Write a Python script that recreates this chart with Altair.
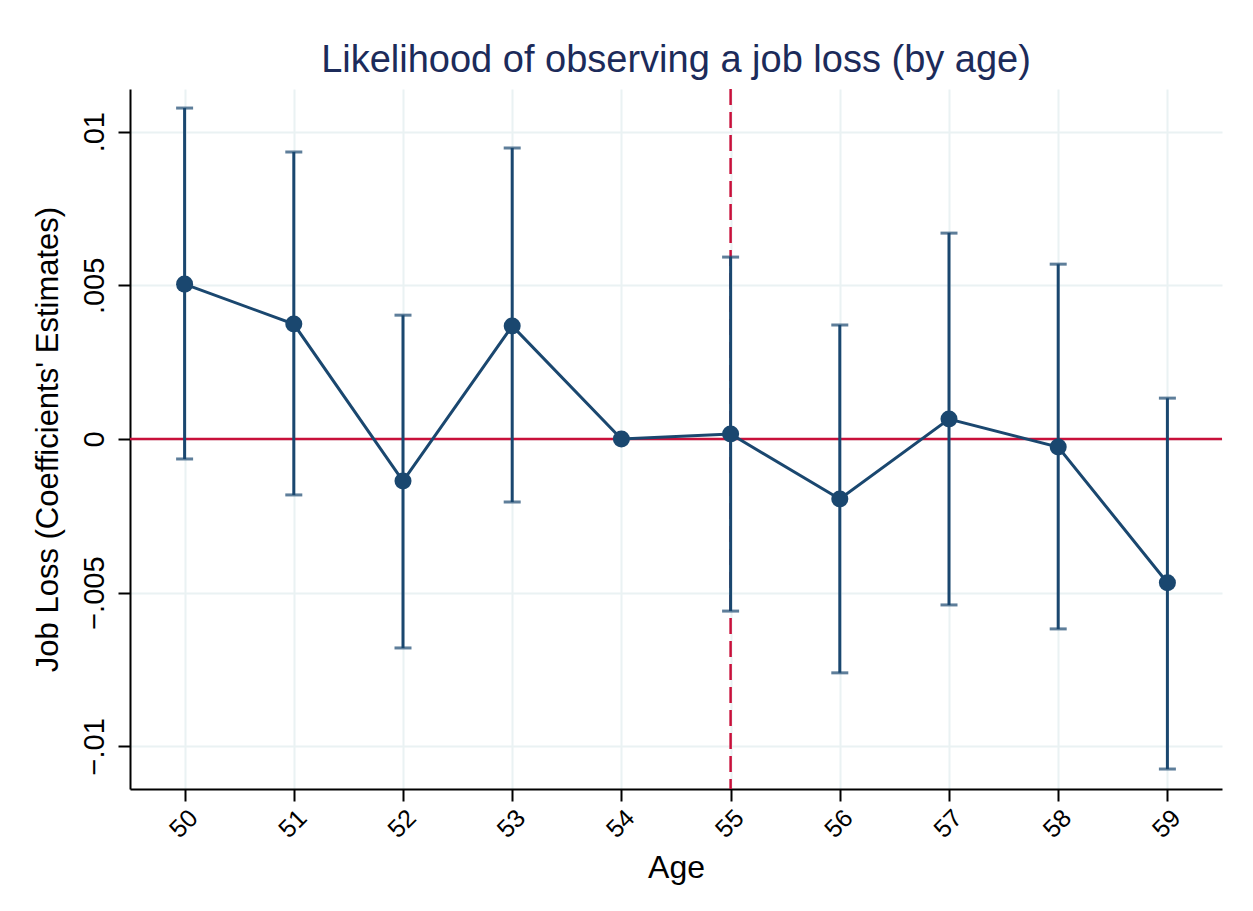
import altair as alt
import pandas as pd

ages = [50, 51, 52, 53, 54, 55, 56, 57, 58, 59]
coef = [0.00504, 0.00374, -0.00137, 0.00368, 0.0, 0.00016, -0.00195, 0.00065, -0.00026, -0.00468]
upper = [0.01077, 0.00934, 0.00403, 0.00947, None, 0.00592, 0.00371, 0.0067, 0.00569, 0.00133]
lower = [-0.00065, -0.00182, -0.0068, -0.00205, None, -0.0056, -0.00761, -0.0054, -0.00618, -0.01074]
y_ticks = [-0.01, -0.005, 0, 0.005, 0.01]
ref_age = [55]
ref_zero = [0]

df = pd.DataFrame({"age": ages, "coef": coef, "upper": upper, "lower": lower})
ci = df.dropna()

NAVY = "#1a476f"
RED = "#c8103a"
FONT = "Liberation Sans"

xscale = alt.Scale(domain=[49.5, 59.5], nice=False, zero=False)
yscale = alt.Scale(domain=[-0.01139, 0.01139], nice=False, zero=False)

xaxis = alt.Axis(values=ages, format="d", labelAngle=315, title="Age",
                 grid=True, gridColor="#eaf2f3", gridWidth=2,
                 domainColor="#000000", domainWidth=2, tickColor="#000000",
                 tickWidth=2, tickSize=12, labelFontSize=25, labelColor="#000000",
                 labelPadding=4, titleFontSize=32, titleFontWeight="normal",
                 titleColor="#000000", titlePadding=10, labelFont=FONT, titleFont=FONT)
yaxis = alt.Axis(values=y_ticks,
                 labelExpr="datum.value == 0 ? '0' : replace(format(datum.value, '.3~f'), '0.', '.')",
                 labelAngle=270, labelAlign="center", labelBaseline="bottom",
                 title="Job Loss (Coefficients' Estimates)",
                 grid=True, gridColor="#eaf2f3", gridWidth=2,
                 domainColor="#000000", domainWidth=2, tickColor="#000000",
                 tickWidth=2, tickSize=12, labelFontSize=29, labelColor="#000000",
                 labelPadding=9, titleFontSize=31, titleFontWeight="normal",
                 titleColor="#000000", titlePadding=16, labelFont=FONT, titleFont=FONT)

base = alt.Chart(df)

hline = alt.Chart(pd.DataFrame({"y": ref_zero})).mark_rule(color=RED, strokeWidth=2.5).encode(
    y=alt.Y("y:Q", scale=yscale, axis=yaxis))
vline = alt.Chart(pd.DataFrame({"x": ref_age})).mark_rule(
    color=RED, strokeWidth=2.5, strokeDash=[16, 7]).encode(
    x=alt.X("x:Q", scale=xscale, axis=xaxis))

rules = alt.Chart(ci).mark_rule(color=NAVY, strokeWidth=3).encode(
    x=alt.X("age:Q", scale=xscale, axis=xaxis),
    y=alt.Y("lower:Q", scale=yscale, axis=yaxis),
    y2="upper:Q")
caps_u = alt.Chart(ci).mark_tick(color=NAVY, thickness=3, size=17, orient="horizontal").encode(
    x=alt.X("age:Q", scale=xscale, axis=xaxis),
    y=alt.Y("upper:Q", scale=yscale, axis=yaxis))
caps_l = alt.Chart(ci).mark_tick(color=NAVY, thickness=3, size=17, orient="horizontal").encode(
    x=alt.X("age:Q", scale=xscale, axis=xaxis),
    y=alt.Y("lower:Q", scale=yscale, axis=yaxis))
line = base.mark_line(color=NAVY, strokeWidth=3).encode(
    x=alt.X("age:Q", scale=xscale, axis=xaxis),
    y=alt.Y("coef:Q", scale=yscale, axis=yaxis))
pts = base.mark_circle(color=NAVY, opacity=1, size=290).encode(
    x=alt.X("age:Q", scale=xscale, axis=xaxis),
    y=alt.Y("coef:Q", scale=yscale, axis=yaxis))

chart = alt.layer(hline, vline, rules, caps_u, caps_l, line, pts).properties(
    width=1092, height=700,
    title=alt.TitleParams("Likelihood of observing a job loss (by age)", fontSize=38,
                          font=FONT, fontWeight="normal", color="#1c2b5a",
                          anchor="middle", offset=8),
    autosize=alt.AutoSizeParams(type="none"),
    padding={"left": 122, "top": 81, "right": 23, "bottom": 114},
    background="white",
).configure_view(strokeWidth=0)

chart.save("out.html", embed_options={"renderer": "svg", "actions": False})
